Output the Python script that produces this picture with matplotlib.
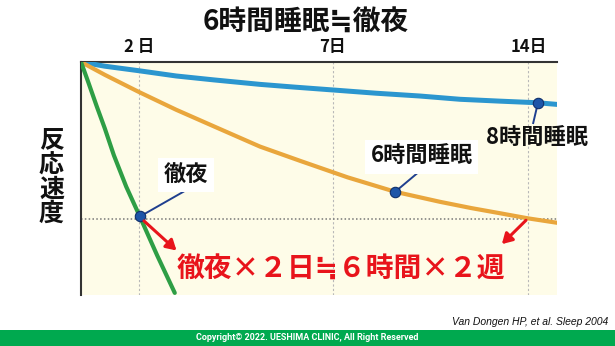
import matplotlib.pyplot as plt
from matplotlib.patches import Rectangle

plt.rcParams['font.family'] = ['Noto Sans CJK JP', 'DejaVu Sans']

# schematic horizontal scale (0-100) and reaction-speed scale (0-100)
tick_pos = [12.2, 52.9, 94.0]
tick_labels = ["2 日", "7日", "14日"]

sleep8_x = [0, 5, 12.0, 20, 28, 37.6, 45, 52.9, 62, 71.2, 79.6, 88, 96.0, 100]
sleep8_y = [100, 98.2, 96.3, 94.0, 92.3, 90.4, 89.2, 88.0, 86.6, 85.4, 84.0, 83.2, 82.5, 81.8]

sleep6_x = [0, 5, 12.0, 20, 28, 37.6, 46.0, 56, 66.0, 75.4, 82, 88.0, 93.9, 100]
sleep6_y = [100, 94.5, 87.3, 79.5, 72.3, 63.7, 57.6, 50.5, 44.3, 40.0, 37.3, 35.1, 32.9, 31.0]

allnight_x = [0, 1.5, 3.3, 5, 6.9, 9.5, 12.4, 16, 19.7]
allnight_y = [100, 91.5, 81.0, 71.5, 60.0, 46.5, 33.5, 17.0, 0.9]

level_y = 32.5

# marker points, label anchors
labels = ["8時間睡眠", "6時間睡眠", "徹夜"]
mark_x = [96.0, 66.0, 12.4]
mark_y = [82.5, 44.3, 33.7]
pin_x = [95.0, 70.9, 21.5]
pin_y = [73.8, 52.7, 44.3]
text_x = [95.8, 71.6, 22.0]
text_y = [67.2, 59.4, 51.5]

fig = plt.figure(figsize=(6.15, 3.46), dpi=100)
ax = fig.add_axes([81/615, 51/346, 476/615, 233/346])
ax.set_facecolor('#fefce8')
ax.set_xlim(0, 100)
ax.set_ylim(0, 100)

for t in tick_pos:
    ax.axvline(t, color='#b8b8b8', lw=0.8, ls=(0, (2, 2)), zorder=1)
ax.axhline(level_y, color='#777777', lw=1.1, ls=(0, (1, 1.5)), zorder=1)

style = dict(solid_capstyle='round', solid_joinstyle='round', zorder=3)
ax.plot(sleep8_x, sleep8_y, color='#2b96cf', lw=3.6, **style)
ax.plot(sleep6_x, sleep6_y, color='#e9a63c', lw=3.0, **style)
ax.plot(allnight_x, allnight_y, color='#2e9e45', lw=3.0, **style)

for i in range(3):
    ax.plot([mark_x[i], pin_x[i]], [mark_y[i], pin_y[i]], color='#1f3f8f', lw=1.4, zorder=4)
    ax.plot(mark_x[i], mark_y[i], 'o', ms=7.5, mfc='#1d55a8', mec='#0f2f6b', mew=0.8, zorder=6)
    box = None
    if i > 0:
        box = dict(facecolor='white', edgecolor='none', pad=4)
    ax.text(text_x[i], text_y[i], labels[i], fontsize=16, fontweight='bold', color='#111111',
            ha='center', va='center', bbox=box, clip_on=False, zorder=5)

arrow = dict(arrowstyle='-|>,head_length=0.6,head_width=0.35', color='#e8141b', lw=2.2)
ax.annotate('', xy=(20.5, 18.3), xytext=(12.8, 32.6), arrowprops=arrow, zorder=7)
ax.annotate('', xy=(88.0, 21.0), xytext=(93.9, 32.9), arrowprops=arrow, zorder=7)

ax.text(54.6, 10.7, "徹夜×２日≒６時間×２週", fontsize=20, fontweight='bold',
        color='#e8141b', ha='center', va='center', zorder=7)

ax.xaxis.tick_top()
ax.set_xticks(tick_pos)
ax.set_xticklabels(tick_labels, fontsize=12, fontweight='bold', color='#111111')
ax.tick_params(axis='x', length=0, pad=4)
ax.set_yticks([])
for s in ['right', 'bottom']:
    ax.spines[s].set_visible(False)
for s in ['top', 'left']:
    ax.spines[s].set_color('#333333')
    ax.spines[s].set_linewidth(1.5)

fig.text(306/615, 1 - 22.5/346, "6時間睡眠≒徹夜", fontsize=20, fontweight='bold',
         color='#111111', ha='center', va='center')
fig.text(51.5/615, 1 - 177.5/346, "反\n応\n速\n度", fontsize=18, fontweight='bold',
         color='#111111', ha='center', va='center', linespacing=1.0)

fig.add_artist(Rectangle((0, 0), 1, 16/346, transform=fig.transFigure,
                         facecolor='#00a94f', edgecolor='none'))
fig.text(307/615, 8/346, "Copyright© 2022. UESHIMA CLINIC, All Right Reserved",
         fontsize=6.5, fontweight='bold', color='white', ha='center', va='center',
         family='Roboto')
fig.text(608/615, 1 - 322/346, "Van Dongen HP, et al. Sleep 2004", fontsize=7.5,
         style='italic', color='#111111', ha='right', va='center', family='Liberation Sans')

fig.savefig('out.png', dpi=100)
